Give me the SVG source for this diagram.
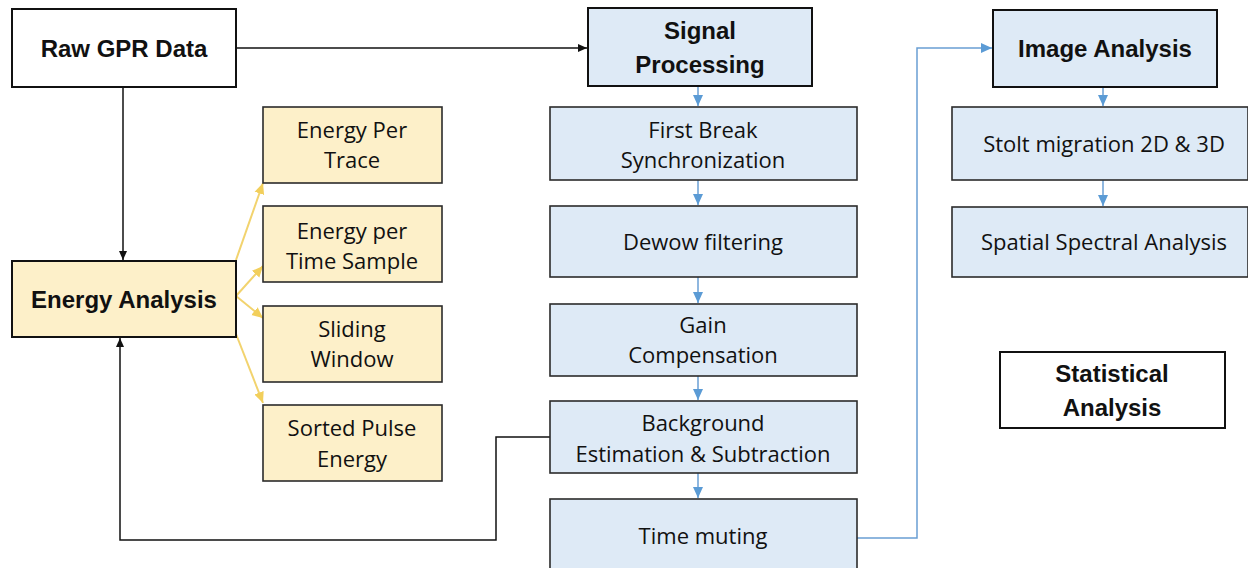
<svg xmlns="http://www.w3.org/2000/svg" width="1248" height="568" viewBox="0 0 1248 568">
<defs>
<style>
.box{stroke:#2b2b2b;stroke-width:1.6}
.wh{fill:#ffffff;stroke:#111;stroke-width:2}
.bl{fill:#deeaf6}
.ye{fill:#fdf0c9}
.blt{fill:#deeaf6;stroke:#111;stroke-width:2}
.yet{fill:#fdf0c9;stroke:#111;stroke-width:2}
text{font-family:"Open Sans","Liberation Sans",Arial,sans-serif;fill:#111;text-anchor:middle}
.r{font-size:22px}
.b{font-family:"Liberation Sans",Arial,sans-serif;font-size:24px;font-weight:bold}
.cb{fill:none;stroke:#111;stroke-width:1.5}
.cblue{fill:none;stroke:#6a9fd4;stroke-width:1.5}
.cy{fill:none;stroke:#f2d36e;stroke-width:2}
</style>
<marker id="ab" markerWidth="10" markerHeight="10" refX="9" refY="5" orient="auto" markerUnits="userSpaceOnUse"><path d="M0,1 L9,5 L0,9 z" fill="#111"/></marker>
<marker id="au" markerWidth="12" markerHeight="12" refX="11" refY="6" orient="auto" markerUnits="userSpaceOnUse"><path d="M0,1 L11,6 L0,11 z" fill="#5b9bd5"/></marker>
<marker id="ay" markerWidth="12" markerHeight="12" refX="11" refY="6" orient="auto" markerUnits="userSpaceOnUse"><path d="M0,1 L11,6 L0,11 z" fill="#f2cf5b"/></marker>
</defs>
<rect width="1248" height="568" fill="#ffffff"/>

<g id="connectors">
<path class="cb" d="M236,48 L587,48" marker-end="url(#ab)"/>
<path class="cb" d="M123,87 L123,260" marker-end="url(#ab)"/>
<path class="cb" d="M550,437 L496,437 L496,540 L120,540 L120,338" marker-end="url(#ab)"/>
<path class="cy" d="M236,260 L263,183" marker-end="url(#ay)"/>
<path class="cy" d="M236,296 L263,266" marker-end="url(#ay)"/>
<path class="cy" d="M236,296 L263,318" marker-end="url(#ay)"/>
<path class="cy" d="M236,334 L263,403" marker-end="url(#ay)"/>
<path class="cblue" d="M698,86 L698,106" marker-end="url(#au)"/>
<path class="cblue" d="M698,180 L698,205" marker-end="url(#au)"/>
<path class="cblue" d="M698,277 L698,303" marker-end="url(#au)"/>
<path class="cblue" d="M698,376 L698,400" marker-end="url(#au)"/>
<path class="cblue" d="M698,473 L698,498" marker-end="url(#au)"/>
<path class="cblue" d="M857,538 L917,538 L917,48 L992,48" marker-end="url(#au)"/>
<path class="cblue" d="M1103,87 L1103,106" marker-end="url(#au)"/>
<path class="cblue" d="M1103,180 L1103,206" marker-end="url(#au)"/>
</g>

<g id="raw-gpr"><rect class="wh" x="12" y="9" width="224" height="78"/><text class="b" x="124" y="57">Raw GPR Data</text></g>
<g id="energy-analysis"><rect class="yet" x="12" y="261" width="224" height="76"/><text class="b" x="124" y="308">Energy Analysis</text></g>
<g id="energy-per-trace"><rect class="box ye" x="263" y="107" width="179" height="76"/><text class="r" x="352" y="138">Energy Per</text><text class="r" x="352" y="168">Trace</text></g>
<g id="energy-per-time"><rect class="box ye" x="263" y="206" width="179" height="76"/><text class="r" x="352" y="239">Energy per</text><text class="r" x="352" y="269">Time Sample</text></g>
<g id="sliding-window"><rect class="box ye" x="263" y="306" width="179" height="76"/><text class="r" x="352" y="337">Sliding</text><text class="r" x="352" y="367">Window</text></g>
<g id="sorted-pulse"><rect class="box ye" x="263" y="405" width="179" height="76"/><text class="r" x="352" y="436">Sorted Pulse</text><text class="r" x="352" y="467">Energy</text></g>

<g id="signal-processing"><rect class="blt" x="588" y="8" width="224" height="78"/><text class="b" x="700" y="39">Signal</text><text class="b" x="700" y="73">Processing</text></g>
<g id="first-break"><rect class="box bl" x="550" y="107" width="307" height="73"/><text class="r" x="703" y="138">First Break</text><text class="r" x="703" y="168">Synchronization</text></g>
<g id="dewow"><rect class="box bl" x="550" y="206" width="307" height="71"/><text class="r" x="703" y="250">Dewow filtering</text></g>
<g id="gain"><rect class="box bl" x="550" y="304" width="307" height="72"/><text class="r" x="703" y="333">Gain</text><text class="r" x="703" y="363">Compensation</text></g>
<g id="background"><rect class="box bl" x="550" y="401" width="307" height="72"/><text class="r" x="703" y="431">Background</text><text class="r" x="703" y="462">Estimation &amp; Subtraction</text></g>
<g id="time-muting"><rect class="box bl" x="550" y="499" width="307" height="80"/><text class="r" x="703" y="544">Time muting</text></g>

<g id="image-analysis"><rect class="blt" x="993" y="10" width="224" height="77"/><text class="b" x="1105" y="57">Image Analysis</text></g>
<g id="stolt"><rect class="box bl" x="952" y="107" width="296" height="73"/><text class="r" x="1104" y="152">Stolt migration 2D &amp; 3D</text></g>
<g id="spatial"><rect class="box bl" x="952" y="207" width="296" height="70"/><text class="r" x="1104" y="250">Spatial Spectral Analysis</text></g>
<g id="statistical"><rect class="wh" x="1000" y="352" width="225" height="76"/><text class="b" x="1112" y="382">Statistical</text><text class="b" x="1112" y="416">Analysis</text></g>
</svg>
